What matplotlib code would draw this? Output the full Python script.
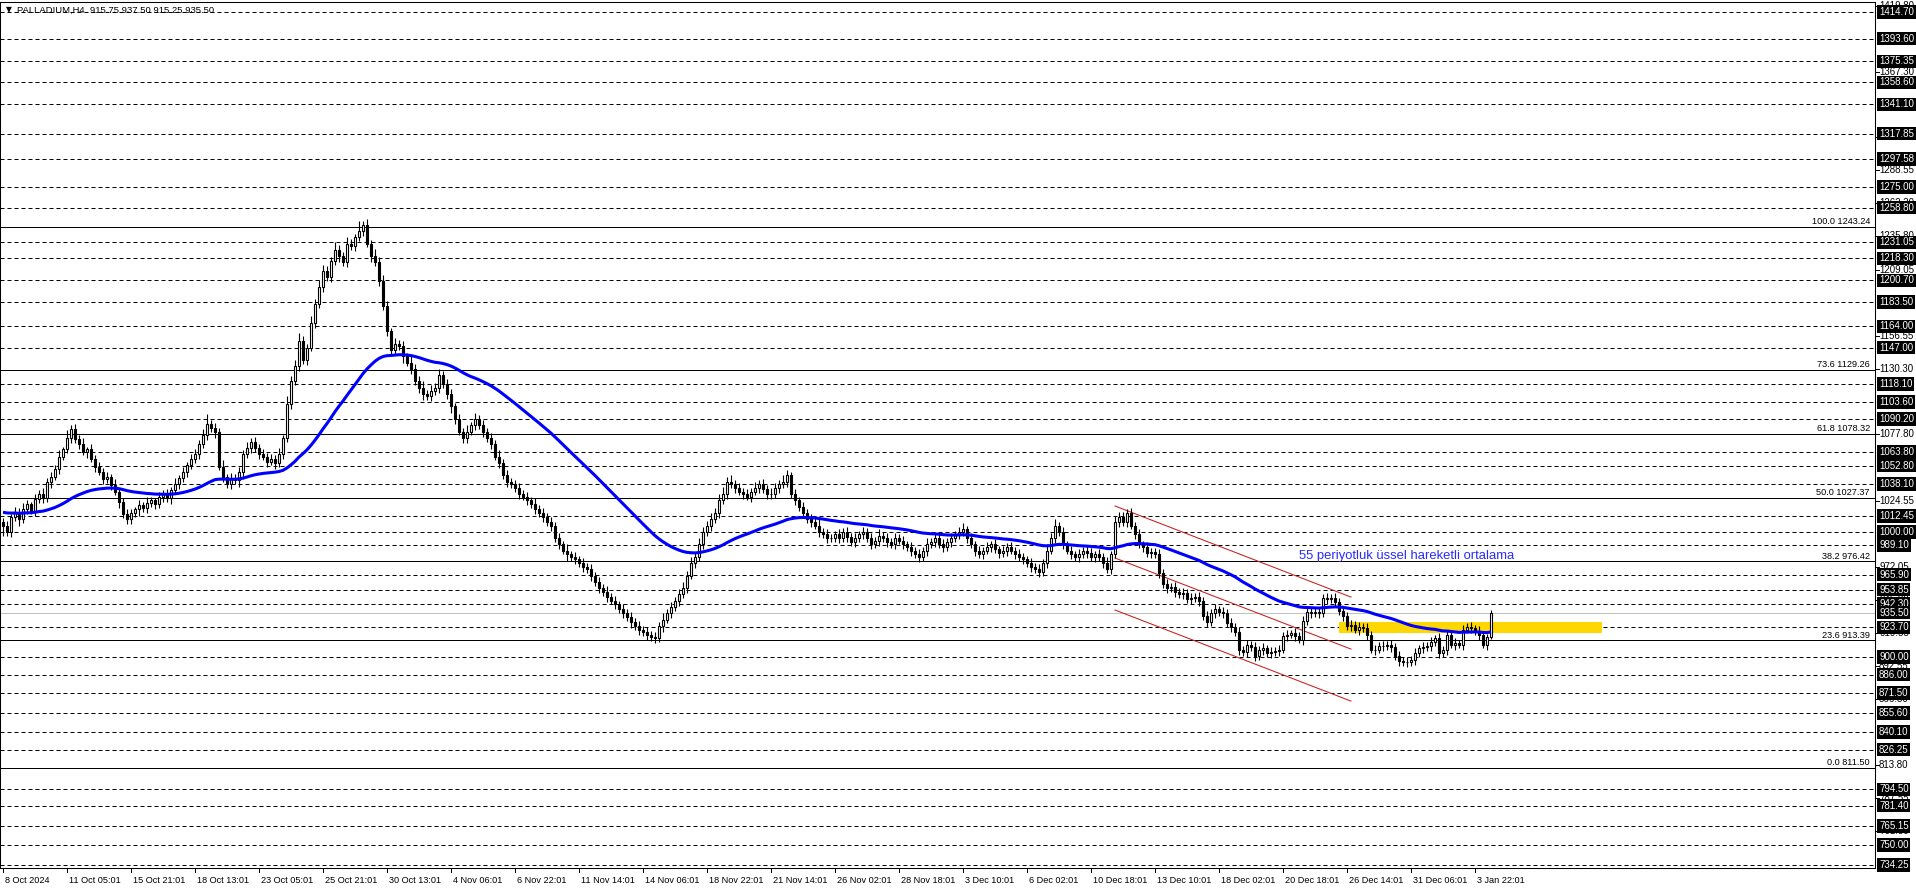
import numpy as np
import pandas as pd
import matplotlib
matplotlib.use("Agg")
import matplotlib.pyplot as plt
from matplotlib import font_manager as fm
from matplotlib.transforms import blended_transform_factory
from matplotlib.patches import Rectangle

# ---------------- data ----------------
closes = [
    1005, 1000, 1012, 1016, 1010, 1018, 1022, 1017, 1026, 1030, 1027, 1040, 1044, 1050, 1060, 1066,
    1075, 1082, 1074, 1070, 1064, 1066, 1058, 1052, 1048, 1042, 1044, 1037, 1032, 1024, 1014, 1010,
    1015, 1018, 1021, 1019, 1023, 1025, 1022, 1028, 1030, 1027, 1033, 1038, 1043, 1048, 1053, 1058,
    1062, 1070, 1077, 1086, 1083, 1080, 1052, 1044, 1038, 1043, 1041, 1048, 1062, 1067, 1072, 1067,
    1062, 1060, 1056, 1058, 1055, 1062, 1075, 1102, 1120, 1132, 1152, 1137, 1147, 1167, 1182, 1195,
    1208, 1203, 1216, 1225, 1220, 1215, 1230, 1228, 1235, 1240, 1245, 1230, 1220, 1215, 1200, 1180,
    1160, 1145, 1150, 1148, 1140, 1135, 1130, 1120, 1115, 1110, 1108, 1112, 1115, 1125, 1118, 1110,
    1100, 1090, 1080, 1075, 1080, 1085, 1090, 1085, 1080, 1075, 1070, 1060, 1055, 1045, 1040, 1038,
    1035, 1030, 1028, 1025, 1022, 1018, 1015, 1012, 1008, 1005, 995, 990, 985, 982, 980, 978,
    975, 972, 970, 965, 960, 955, 952, 948, 945, 942, 938, 935, 932, 928, 925, 922,
    920, 918, 916, 915, 925, 930, 935, 940, 945, 950, 955, 965, 975, 980, 990, 1000,
    1005, 1010, 1015, 1025, 1030, 1040, 1038, 1035, 1032, 1030, 1028, 1032, 1035, 1038, 1034, 1030,
    1030, 1035, 1038, 1040, 1045, 1030, 1025, 1020, 1015, 1010, 1008, 1005, 1000, 998, 995, 995,
    998, 995, 1000, 996, 992, 995, 998, 1000, 995, 990, 993, 997, 995, 992, 990, 995,
    993, 990, 988, 985, 982, 980, 985, 990, 992, 995, 990, 988, 992, 995, 998, 1000,
    1002, 995, 990, 985, 982, 985, 988, 990, 986, 983, 985, 988, 985, 982, 980, 978,
    975, 972, 970, 968, 975, 985, 995, 1005, 1000, 990, 985, 982, 980, 982, 985, 983,
    980, 982,
    980, 975, 970, 982, 1008, 1012, 1008, 1015, 1005, 998,
    990, 988, 983, 984, 982, 967, 958, 955, 956, 952,
    950, 951, 946, 947, 948, 945, 933, 928, 935, 938,
    936, 935, 927, 924, 920, 906, 904, 910, 908, 901,
    906, 907, 903, 904, 905, 906, 917, 918, 919, 917,
    914, 929, 936, 935, 936, 935, 947, 946, 947, 944,
    937, 933, 925, 926, 922, 924, 923, 918, 906, 906,
    909, 909, 910, 908, 901, 897, 896, 896, 898, 903,
    907, 908, 909, 912, 915, 903, 906, 918, 910, 911,
    910, 922, 924, 923, 921, 918, 910, 915.75, 935.5,
]
first_open = 1008.0
up_wick_rows = [
    "3424353243534352", "6343524343425334", "3243532434352434", "4358343524343534",
    "3434352645743546", "5436435438353645", "4353435445354534", "4343535343435343",
    "3434353434343534", "3434343534343434", "3434353434545454", "4545645343435343",
    "5435434343435343", "3434343434353434", "3434343534343434", "5343434343434343",
    "3434354534343434", "4343535443434343", "3434343434343434", "3434343434343434",
    "3434343434343434", "3434343434343434", "3434343434343434", "34232",
]
dn_wick_rows = [
    "8343534343435343", "3434352434343534", "4353434343534343", "3434353434356343",
    "4343534343434343", "4343534343435343", "4343534345343434", "5434434343434343",
    "3434343434343534", "3434343434343534", "3434353434343434", "3434343434343434",
    "4343434343434343", "3434343434343434", "3434343434343434", "3434343434343434",
    "3434343434343434", "3434343434343434", "3434343434343434", "3434343434343434",
    "3434343434343434", "3434343434343434", "3434343434343434", "34341",
]
up_wick = [int(ch) for ch in "".join(up_wick_rows)]
dn_wick = [int(ch) for ch in "".join(dn_wick_rows)]

ema_seed = 1016.0
ema_span = 55

hline_prices = [1414.70, 1393.60, 1375.35, 1358.60, 1341.10, 1317.85, 1297.58, 1275.00,
                1258.80, 1231.05, 1218.30, 1200.70, 1183.50, 1164.00, 1147.00, 1118.10,
                1103.60, 1090.20, 1063.80, 1052.80, 1038.10, 1012.45, 1000.00, 989.10,
                965.90, 953.85, 942.30, 923.70, 900.00, 886.00, 871.50, 855.60, 840.10,
                826.25, 794.50, 781.40, 765.15, 750.00, 734.25]
grid_prices = [1419.80, 1367.30, 1314.80, 1288.55, 1262.30, 1235.80, 1209.05, 1156.55,
               1130.30, 1077.80, 1024.55, 972.05, 945.80,
               919.55, 892.55, 866.30, 813.80, 787.55, 761.50]
fib_levels = [100.0, 73.6, 61.8, 50.0, 38.2, 23.6, 0.0]
fib_prices = [1243.24, 1129.26, 1078.32, 1027.37, 976.42, 913.39, 811.50]
bid_price = 935.50

time_labels = ["8 Oct 2024", "11 Oct 05:01", "15 Oct 21:01", "18 Oct 13:01", "23 Oct 05:01",
               "25 Oct 21:01", "30 Oct 13:01", "4 Nov 06:01", "6 Nov 22:01", "11 Nov 14:01",
               "14 Nov 06:01", "18 Nov 22:01", "21 Nov 14:01", "26 Nov 02:01", "28 Nov 18:01",
               "3 Dec 10:01", "6 Dec 02:01", "10 Dec 18:01", "13 Dec 10:01", "18 Dec 02:01",
               "20 Dec 18:01", "26 Dec 14:01", "31 Dec 06:01", "3 Jan 22:01"]
time_label_bars = [0, 16, 32, 48, 64, 80, 96, 112, 128, 144, 160, 176, 192, 208, 224, 240,
                   256, 272, 288, 304, 320, 336, 352, 368]

# channel (bar index, price) endpoints
channel_x = [278, 337]
channel_upper = [1020.6, 947.9]
channel_mid = [979.1, 906.4]
channel_lower = [937.6, 864.9]

zone_bars = [334, 399.75]
zone_prices = [919.2, 928.0]

title_text = "PALLADIUM,H4  915.75 937.50 915.25 935.50"
ema_text = "55 periyotluk üssel hareketli ortalama"
ema_text_pos = (324, 981.0)

# ---------------- derived ----------------
opens = [first_open] + closes[:-1]
highs = [max(o, c) + u for o, c, u in zip(opens, closes, up_wick)]
lows = [min(o, c) - d for o, c, d in zip(opens, closes, dn_wick)]
idx = np.arange(len(closes))
ema = pd.Series([ema_seed] + list(closes)).ewm(span=ema_span, adjust=False).mean().iloc[1:].values

# ---------------- figure ----------------
W, H = 1916, 888
avail = {f.name for f in fm.fontManager.ttflist}
base_font = "Liberation Sans" if "Liberation Sans" in avail else "DejaVu Sans"
narrow_font = "Liberation Sans Narrow" if "Liberation Sans Narrow" in avail else base_font
plt.rcParams["font.family"] = [base_font, "DejaVu Sans"]

fig = plt.figure(figsize=(W / 100, H / 100), dpi=100)
fig.patch.set_facecolor("white")
PL, PR, PT, PB = 0, 1875, 2, 868
ax = fig.add_axes([PL / W, (H - PB) / H, (PR - PL) / W, (PB - PT) / H])
ax.set_facecolor("white")
ax.set_xlim(-0.75, 468)
ax.set_ylim(731.71, 1422.80)
ax.set_xticks([])
ax.set_yticks([])
for s in ax.spines.values():
    s.set_color("black")
    s.set_linewidth(0.75)

# dashed horizontal lines
for p in hline_prices:
    ax.axhline(p, color="black", lw=0.72, ls=(0, (4, 3)), zorder=1)
# fib lines
for p in fib_prices:
    ax.axhline(p, color="black", lw=0.72, zorder=1)
# bid line
ax.axhline(bid_price, color="#c0c0c0", lw=0.72, zorder=1)

# zone rectangle
ax.add_patch(Rectangle((zone_bars[0], zone_prices[0]), zone_bars[1] - zone_bars[0],
                       zone_prices[1] - zone_prices[0], facecolor="#FFD700",
                       edgecolor="none", zorder=2))

# channel
for ys in (channel_upper, channel_mid, channel_lower):
    ax.plot(channel_x, ys, color="#c81e1e", lw=0.75, zorder=2)

# candles
o = np.array(opens); c = np.array(closes)
ax.vlines(idx, lows, highs, color="black", lw=0.8, zorder=3)
bull = c >= o
bottoms = np.minimum(o, c)
heights = np.maximum(np.abs(c - o), 0.05)
ax.bar(idx[bull], heights[bull], bottom=bottoms[bull], width=0.5, facecolor="white",
       edgecolor="black", lw=0.8, zorder=4)
ax.bar(idx[~bull], heights[~bull], bottom=bottoms[~bull], width=0.5, facecolor="black",
       edgecolor="black", lw=0.8, zorder=4)

# EMA
ax.plot(idx, ema, color="#0000ff", lw=2.2, zorder=5, solid_capstyle="butt")
ax.text(ema_text_pos[0], ema_text_pos[1], ema_text, color="#2a2aff", fontsize=9.4,
        family=[narrow_font, "DejaVu Sans"], ha="left", va="center", zorder=6)

# fib labels
tr_ax_x = blended_transform_factory(ax.transAxes, ax.transData)
for lv, p in zip(fib_levels, fib_prices):
    ax.text(1870 / 1875, p + 0.6, f"{lv:.1f} {p:.2f}", transform=tr_ax_x, ha="right",
            va="bottom", fontsize=6.6, color="black", zorder=6)

# right price axis labels
tr_fig_y = blended_transform_factory(fig.transFigure, ax.transData)
for p in grid_prices:
    fig.text(1879 / W, p, f"{p:.2f}", transform=tr_fig_y, ha="left", va="center",
             fontsize=7, color="black", clip_on=False)
    fig.add_artist(plt.Line2D([PR / W, (PR + 4) / W], [p, p], transform=tr_fig_y,
                              color="black", lw=0.72))
for p in hline_prices + [bid_price]:
    fig.text(1879 / W, p, f"{p:.2f}", transform=tr_fig_y, ha="left", va="center",
             fontsize=7, color="white",
             bbox=dict(boxstyle="square,pad=0.18", facecolor="black", edgecolor="none"))

# time axis
tr_data_fig = blended_transform_factory(ax.transData, fig.transFigure)
for b, lab in zip(time_label_bars, time_labels):
    fig.add_artist(plt.Line2D([b, b], [(H - PB) / H, (H - PB - 4) / H],
                              transform=tr_data_fig, color="black", lw=0.72))
    fig.text(b + 0.4, (H - 880) / H, lab, transform=tr_data_fig, ha="left", va="center",
             fontsize=6.6, color="black")

# title
fig.text(6 / W, 1 - 10 / H, "▼", fontsize=5.5, ha="left", va="center", family="DejaVu Sans")
fig.text(17 / W, 1 - 10 / H, title_text, fontsize=6.8, ha="left", va="center")

fig.savefig("out.png", dpi=100, facecolor="white")
